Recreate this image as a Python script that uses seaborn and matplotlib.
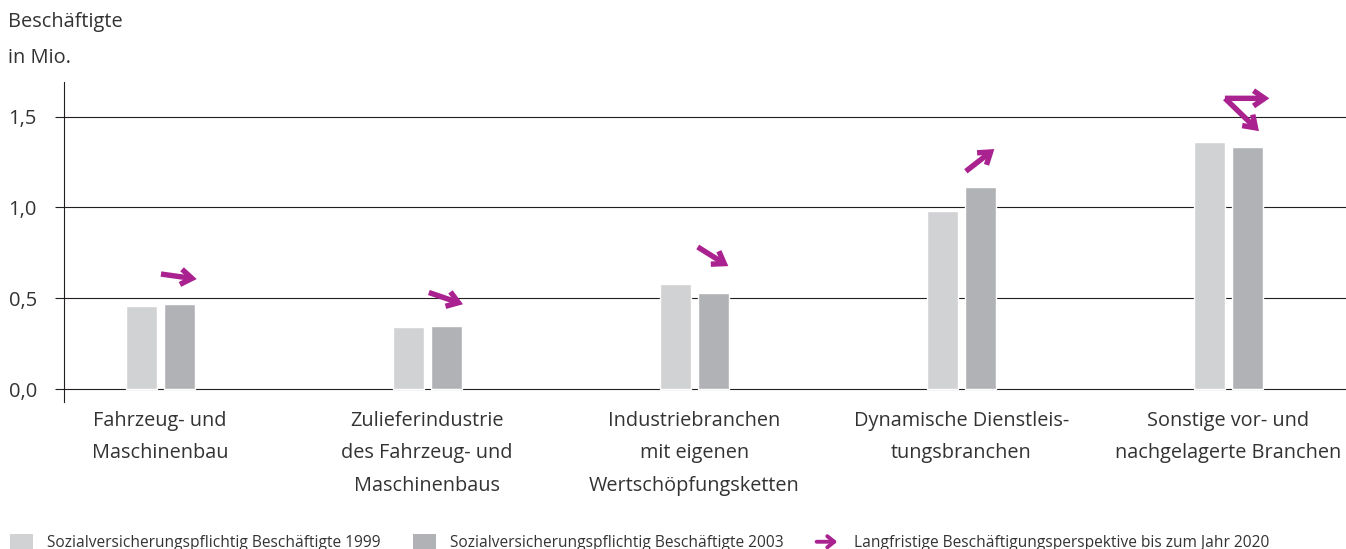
import numpy as np
import pandas as pd
import matplotlib
matplotlib.use('Agg')
import matplotlib.pyplot as plt
import matplotlib.transforms as mtransforms
from matplotlib.patches import Patch, FancyArrowPatch
from matplotlib.legend_handler import HandlerBase
import seaborn as sns

# Daten (Beschäftigte in Mio.)
branchen = [
    'Fahrzeug- und\nMaschinenbau',
    'Zulieferindustrie\ndes Fahrzeug- und\nMaschinenbaus',
    'Industriebranchen\nmit eigenen\nWertschöpfungsketten',
    'Dynamische Dienstleis-\ntungsbranchen',
    'Sonstige vor- und\nnachgelagerte Branchen',
]
werte_1999 = [0.46, 0.34, 0.58, 0.98, 1.36]
werte_2003 = [0.47, 0.35, 0.53, 1.11, 1.33]
serien = ['Sozialversicherungspflichtig Beschäftigte 1999',
          'Sozialversicherungspflichtig Beschäftigte 2003']
pfeil_text = 'Langfristige Beschäftigungsperspektive bis zum Jahr 2020'
# Richtung der Perspektive-Pfeile in Grad (mehrere pro Branche möglich)
pfeil_winkel = [[-8], [-19], [-32], [38], [0, -44]]
pfeil_laenge = [[26], [26], [26], [26], [32, 34]]  # in Punkten
y_ticks = [0.0, 0.5, 1.0, 1.5]
y_ticklabels = ['0,0', '0,5', '1,0', '1,5']

HELL = '#d1d2d4'
DUNKEL = '#b1b2b5'
MAGENTA = '#a9228f'
TEXT = '#333333'
LINIE = '#231f20'

df = pd.DataFrame({
    'branche': branchen * 2,
    'wert': werte_1999 + werte_2003,
    'serie': [serien[0]] * len(branchen) + [serien[1]] * len(branchen),
})

sns.set_style('white')
plt.rcParams['font.family'] = ['Open Sans', 'DejaVu Sans']
plt.rcParams['text.color'] = TEXT

fig = plt.figure(figsize=(13.46, 5.49), dpi=100)
ax = fig.add_axes([64 / 1346, 1 - 402 / 549, 1 - 64 / 1346, (402 - 82) / 549])

sns.barplot(data=df, x='branche', y='wert', hue='serie', order=branchen,
            hue_order=serien, palette=[HELL, DUNKEL], width=0.285, gap=0.18,
            saturation=1, ax=ax, legend=False)

ax.set_xlim(-0.36, 4.44)
ax.set_ylim(-0.07, 1.69)
ax.set_xlabel('')
ax.set_ylabel('')
ax.set_yticks(y_ticks)
ax.set_yticklabels(y_ticklabels)
ax.set_axisbelow(True)
ax.yaxis.grid(True, color=LINIE, lw=0.8)
ax.xaxis.grid(False)
for s in ['top', 'right', 'bottom']:
    ax.spines[s].set_visible(False)
ax.spines['left'].set_color(LINIE)
ax.spines['left'].set_linewidth(0.8)
ax.tick_params(axis='y', length=6.5, width=0.8, color=LINIE, pad=13,
               labelsize=14.5, labelcolor=TEXT, left=True)
ax.tick_params(axis='x', length=0, pad=6.5, labelsize=14.3, labelcolor=TEXT)
for lbl in ax.get_xticklabels():
    lbl.set_linespacing(1.82)

# Perspektive-Pfeile
for i, (w99, w03) in enumerate(zip(werte_1999, werte_2003)):
    vecs = [(l * np.cos(np.radians(a)), l * np.sin(np.radians(a)))
            for a, l in zip(pfeil_winkel[i], pfeil_laenge[i])]
    xs = [0] + [v[0] for v in vecs]
    ys = [0] + [v[1] for v in vecs]
    cx = (min(xs) + max(xs)) / 2
    cy = (min(ys) + max(ys)) / 2
    anker = (i + 0.07, max(w99, w03) + 0.15)
    for vx, vy in vecs:
        t_start = mtransforms.offset_copy(ax.transData, fig=fig, x=-cx, y=-cy, units='points')
        t_ende = mtransforms.offset_copy(ax.transData, fig=fig, x=vx - cx, y=vy - cy, units='points')
        ax.annotate('', xy=anker, xycoords=t_ende, xytext=anker, textcoords=t_start,
                    arrowprops=dict(arrowstyle='->,head_length=0.8,head_width=0.55',
                                    color=MAGENTA, lw=3.9, shrinkA=0, shrinkB=0,
                                    capstyle='butt', joinstyle='miter'))

# Achsentitel
fig.text(8 / 1346, 1 - 12 / 549, 'Beschäftigte\nin Mio.', fontsize=14.4,
         va='top', ha='left', linespacing=2.05, color=TEXT)


class HandlerPfeil(HandlerBase):
    def create_artists(self, legend, orig_handle, xdescent, ydescent,
                       width, height, fontsize, trans):
        y = height / 2 - ydescent
        p = FancyArrowPatch((-xdescent, y), (-xdescent + width * 0.9, y),
                            arrowstyle='->,head_length=0.5,head_width=0.4',
                            mutation_scale=10, color=MAGENTA, lw=2.8,
                            shrinkA=0, shrinkB=0, transform=trans)
        return [p]


pfeil_handle = FancyArrowPatch((0, 0), (1, 0))
handles = [Patch(facecolor=HELL, edgecolor='none'),
           Patch(facecolor=DUNKEL, edgecolor='none'),
           pfeil_handle]
fig.legend(handles, serien + [pfeil_text], loc='lower left',
           bbox_to_anchor=(10 / 1346, -2 / 549), ncol=3, frameon=False,
           fontsize=11.2, handlelength=1.48, handleheight=1.22,
           handletextpad=0.9, columnspacing=2.1, borderpad=0, borderaxespad=0,
           handler_map={FancyArrowPatch: HandlerPfeil()})

fig.savefig('out.png', dpi=100)
